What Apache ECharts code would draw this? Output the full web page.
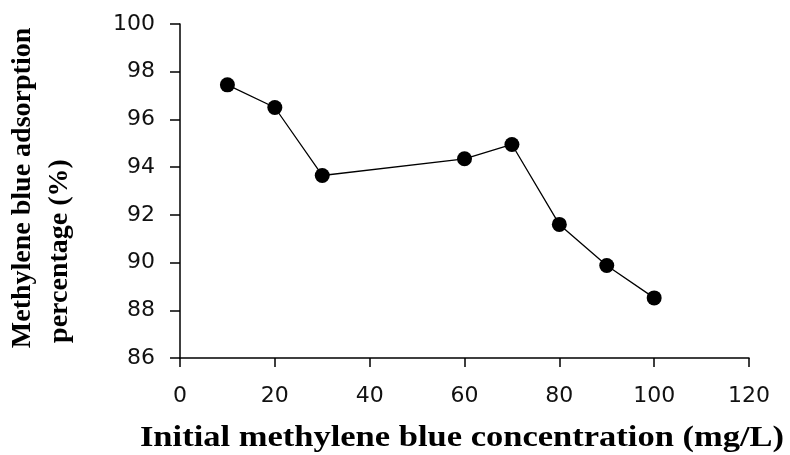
<!DOCTYPE html>
<html>
<head>
<meta charset="utf-8">
<script src="https://cdn.jsdelivr.net/npm/echarts@6/dist/echarts.min.js"></script>
<style>
    html, body { margin: 0; padding: 0; background: #fff; }
    #chart { width: 790px; height: 455px; }
</style>
</head>
<body>
<div id="chart"></div>
<script>
// initial concentration (mg/L)
var concentration = [10, 20, 30, 60, 70, 80, 90, 100];
// adsorption percentage (%)
var adsorption = [97.45, 96.5, 93.65, 94.35, 94.95, 91.6, 89.88, 88.52];

var xTitle = 'Initial methylene blue concentration (mg/L)';
var yTitle1 = 'Methylene blue adsorption';
var yTitle2 = 'percentage (%)';

function Set_Adsorption_echarts() {
    var dom = document.getElementById('chart');
    var myChart = echarts.init(dom, null, {
        renderer: 'canvas',
        useDirtyRect: false
    });

    var points = concentration.map(function (c, i) {
        return [c, adsorption[i]];
    });

    function titleStyle(text, size) {
        return {
            text: text,
            textAlign: 'center',
            textVerticalAlign: 'middle',
            fontFamily: 'Liberation Serif',
            fontWeight: 'bold',
            fontSize: size,
            fill: '#000'
        };
    }

    var option = {
        backgroundColor: '#fff',
        animation: false,
        grid: {
            left: 180,
            right: 41,
            top: 24,
            bottom: 97
        },
        xAxis: {
            type: 'value',
            min: 0,
            max: 120,
            interval: 20,
            axisLine: { show: true, lineStyle: { color: '#000', width: 1.5 } },
            axisTick: { show: true, length: 9, lineStyle: { color: '#000', width: 1.5 } },
            axisLabel: {
                margin: 27,
                color: '#111',
                fontFamily: 'DejaVu Sans',
                fontSize: 22
            },
            splitLine: { show: false }
        },
        yAxis: {
            type: 'value',
            min: 86,
            max: 100,
            interval: 2,
            axisLine: { show: true, lineStyle: { color: '#000', width: 1.5 } },
            axisTick: { show: true, length: 10, lineStyle: { color: '#000', width: 1.5 } },
            axisLabel: {
                margin: 25,
                color: '#111',
                fontFamily: 'DejaVu Sans',
                fontSize: 22
            },
            splitLine: { show: false }
        },
        graphic: [
            {
                type: 'text',
                x: 462,
                y: 439,
                scaleX: 1.19,
                style: titleStyle(xTitle, 29)
            },
            {
                type: 'text',
                x: 23,
                y: 188,
                rotation: Math.PI / 2,
                style: titleStyle(yTitle1, 28)
            },
            {
                type: 'text',
                x: 60,
                y: 251,
                rotation: Math.PI / 2,
                style: titleStyle(yTitle2, 28)
            }
        ],
        series: [
            {
                name: 'Adsorption',
                type: 'line',
                data: points,
                symbol: 'circle',
                symbolSize: 15,
                lineStyle: { color: '#000', width: 1.3 },
                itemStyle: { color: '#000' }
            }
        ]
    };

    if (option && typeof option === 'object') {
        myChart.setOption(option);
    }

    window.addEventListener('resize', myChart.resize);
}

Set_Adsorption_echarts();
</script>
</body>
</html>
